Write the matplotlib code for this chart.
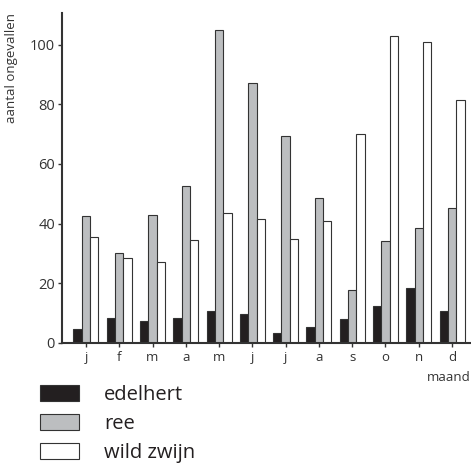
import matplotlib
matplotlib.use("Agg")
import matplotlib.pyplot as plt
import numpy as np

plt.rcParams['font.family'] = ['Open Sans', 'DejaVu Sans']

# maanden en ongevallen per diersoort
maanden = ['j', 'f', 'm', 'a', 'm', 'j', 'j', 'a', 's', 'o', 'n', 'd']
edelhert = [4.6, 8.3, 7.5, 8.3, 10.8, 9.7, 3.5, 5.5, 8.1, 12.4, 18.5, 10.6]
ree = [42.7, 30.0, 43.0, 52.5, 104.8, 87.2, 69.5, 48.7, 17.7, 34.1, 38.5, 45.4]
wild_zwijn = [35.5, 28.4, 27.1, 34.6, 43.6, 41.6, 34.7, 40.9, 70.2, 102.8, 101.0, 81.6]
yticks = [0, 20, 40, 60, 80, 100]

fig = plt.figure(figsize=(4.71, 4.65), dpi=100)
ax = fig.add_axes([62 / 471, 122 / 465, 409 / 471, 330 / 465])

x = np.arange(len(maanden))
w = 0.25
edge = '#333333'
ax.bar(x - w, edelhert, w, color='#231f20', edgecolor=edge, linewidth=0.8, label='edelhert')
ax.bar(x, ree, w, color='#bcbec0', edgecolor=edge, linewidth=0.8, label='ree')
ax.bar(x + w, wild_zwijn, w, color='white', edgecolor=edge, linewidth=0.8, label='wild zwijn')

ax.set_xlim(-0.72, 11.57)
ax.set_ylim(0, 110.6)
ax.set_xticks(x)
ax.set_xticklabels(maanden, fontsize=9.5, color='#333333')
ax.set_yticks(yticks)
ax.set_yticklabels([str(v) for v in yticks], fontsize=10.5, color='#333333')
ax.tick_params(axis='x', length=3, width=1, color='#333333', pad=3)
ax.tick_params(axis='y', length=3, width=1, color='#333333', pad=2)

for s in ['top', 'right']:
    ax.spines[s].set_visible(False)
for s in ['left', 'bottom']:
    ax.spines[s].set_color('#333333')
    ax.spines[s].set_linewidth(1.5)

fig.text(12 / 471, 1 - 13 / 465, 'aantal ongevallen', rotation=90, ha='center', va='top',
         fontsize=9.5, color='#333333')
fig.text(1.0, 1 - 377 / 465, 'maand', ha='right', va='center', fontsize=9.5, color='#333333')

handles, labels = ax.get_legend_handles_labels()
fig.legend(handles, labels, loc='upper left', bbox_to_anchor=(40 / 471, 1 - 385 / 465),
           frameon=False, fontsize=14.5, handlelength=1.93, handleheight=0.8,
           handletextpad=1.25, labelspacing=0.45, borderaxespad=0, borderpad=0,
           labelcolor='#231f20')

fig.savefig('out.png', dpi=100)
